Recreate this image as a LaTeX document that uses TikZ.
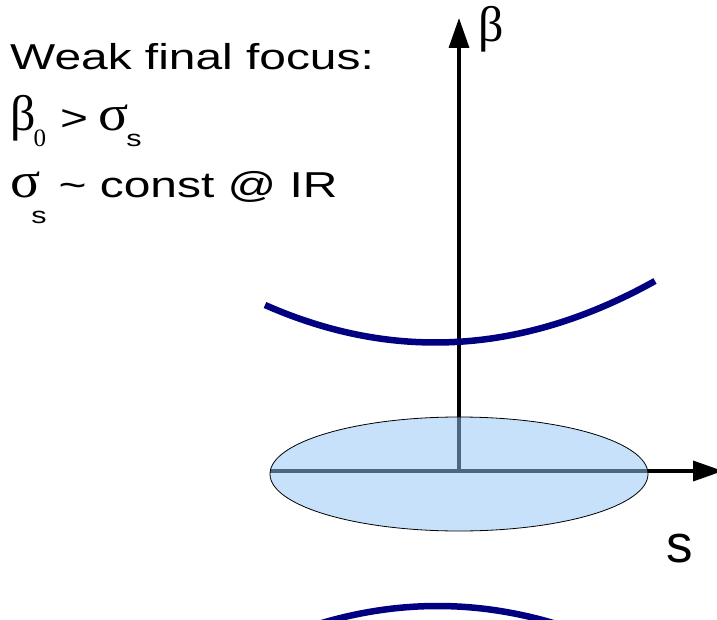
\documentclass[tikz,border=0pt]{standalone}
\usepackage{fontspec}
\setmainfont{Liberation Sans}
\newfontfamily\grk{Liberation Serif}
\usepackage{graphicx}
\usetikzlibrary{arrows.meta}
\definecolor{beamnavy}{RGB}{0,0,128}
\definecolor{bunchblue}{RGB}{148,198,246}
% stretched sans text, greek letters, lowered subscripts
\newcommand{\sfw}[2][36]{\scalebox{1.33}[1]{\fontsize{#1}{#1}\selectfont #2}}
\newcommand{\gr}[2][50]{{\grk\fontsize{#1}{#1}\selectfont #2}}
\newcommand{\lo}[2]{\raisebox{-#1}{#2}}

\begin{document}
\begin{tikzpicture}[x=1pt,y=-1pt,
    axis/.style={line width=3.5pt, -{Triangle[length=30pt,width=20pt]}},
    orbit/.style={line width=6.5pt, draw=beamnavy},
    txt/.style={anchor=base west, inner sep=0pt}]
  \useasboundingbox (0,0) rectangle (717,620);
  \clip (0,0) rectangle (717,620);
  \coordinate (O)    at (459,471);
  \coordinate (ytip) at (459,18);
  \coordinate (xl)   at (270,471);
  \coordinate (xtip) at (723,471);
  \draw[axis] (O) -- (ytip);
  \draw[axis] (xl) -- (xtip);
  % bunch
  \draw[line width=0.8pt, fill=bunchblue, fill opacity=0.52]
    (459,474) ellipse [x radius=189, y radius=57];
  % beta function above and below
  \draw[orbit] (265,305) .. controls (394,362) and (524,354) .. (655,281);
  \draw[orbit] (300,630) .. controls (392,598) and (483,598) .. (575,630);
  \node[txt] (betalbl) at (478,42) {\gr{β}};
  \node[txt] (slbl) at (666,562) {\fontsize{53}{53}\selectfont s};
  \node[txt] (line1) at (10,70) {\sfw{Weak final focus:}};
  \node[txt] (line2) at (10,131)
    {\gr{β}\hspace{-2pt}\lo{16pt}{\gr[25]{0}}\hspace{14pt}\sfw{>}\hspace{10pt}\scalebox{1.12}[1]{\gr{σ}}\hspace{-2pt}\lo{16pt}{\sfw[23]{s}}};
  \node[txt] (line3) at (10,198)
    {\scalebox{1.12}[1]{\gr{σ}}\hspace{-9pt}\lo{26pt}{\sfw[23]{s}}\hspace{12pt}\sfw{\textasciitilde{} const @ IR}};
\end{tikzpicture}
\end{document}
